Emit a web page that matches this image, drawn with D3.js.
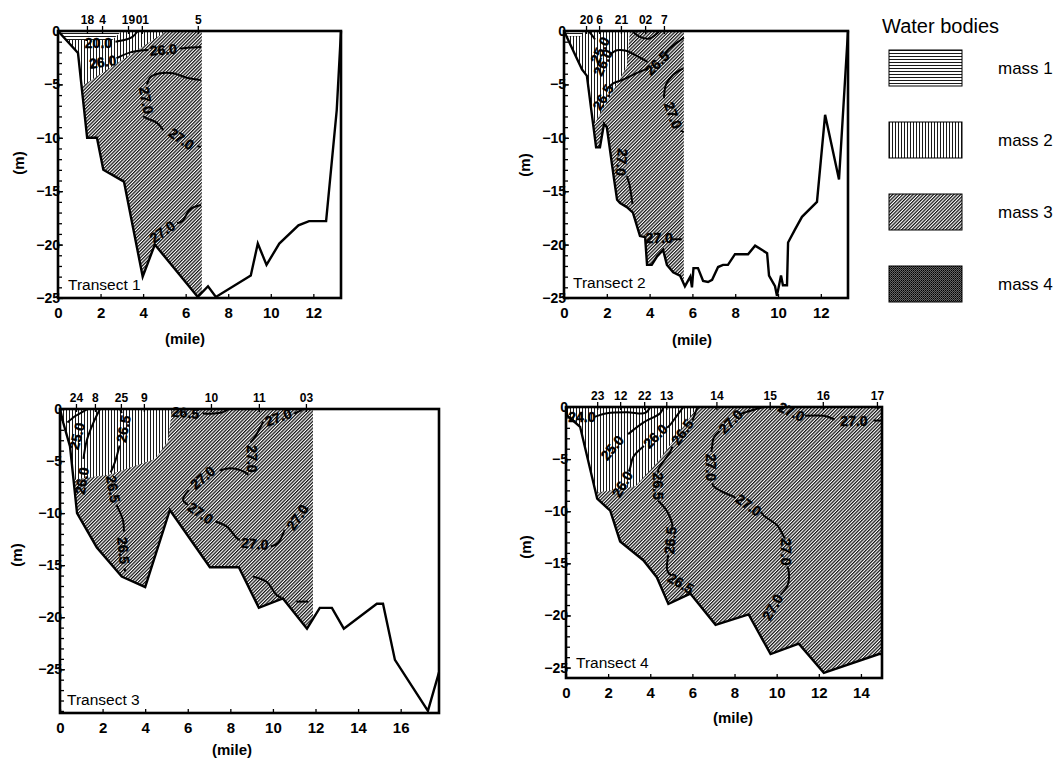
<!DOCTYPE html>
<html>
<head>
<meta charset="utf-8">
<script src="https://cdn.jsdelivr.net/npm/d3@7"></script>
<style>
  body { margin: 0; background: #fff; }
  svg { display: block; }
  text { font-family: "Liberation Sans", Arial, sans-serif; fill: #000; }
  .tick line { stroke: #000; stroke-width: 1.3; }
  .domain { display: none; }
  .c-lbl { font-weight: bold; font-size: 14px; }
  .unit { font-weight: bold; font-size: 15px; }
  .tr-name { font-size: 15.5px; }
</style>
</head>
<body>
<svg id="chart" width="1061" height="761"></svg>
<script>

// ---- transect 1 ----
const profile1 = [[0,0],[0.94,-2.06],[1.37,-10],[1.83,-10],[2.13,-13],[3.1,-14.1],[3.98,-23],[4.55,-20],[6.57,-24.9],[7.05,-23.9],[7.42,-24.9],[9.06,-22.9],[9.39,-19.9],[9.8,-21.9],[10.4,-19.9],[11.3,-18.2],[11.8,-17.8],[12.6,-17.8],[13.1,-7.4],[13.3,0]]
const stations1 = [1.36, 2.07, 3.29, 3.94, 6.57]
const stationNames1 = ['18', '4', '19', '01', '5']
const hatchEnd1 = 6.76
const mass1Edge1 = [[3.0,0],[2.55,-0.85],[0.39,-0.85]]
const mass2Edge1 = [[5.1,0],[1.17,-5.1],[1.1,-5.1]]
const contours1 = [
  [[2.7,-1.0],[3.2,-0.8],[3.5,-0.55],[3.75,0]],
  [[2.75,-2.55],[3.4,-2.0],[4.0,-1.8],[4.25,-1.78]],
  [[5.7,-1.65],[6.2,-1.55],[6.72,-1.5]],
  [[6.72,-4.6],[6.1,-4.4],[5.4,-3.95],[4.8,-3.95],[4.35,-4.3],[4.18,-5.0]],
  [[4.0,-8.0],[4.2,-8.2],[4.65,-8.6],[4.95,-9.3]],
  [[6.55,-10.8],[6.72,-10.85]],
  [[6.72,-16.3],[6.2,-16.7],[5.85,-17.8],[5.6,-18.0]]
]
const labels1 = [[1.9,-1.15,0,'20.0'],[2.1,-2.9,-8,'26.0'],[4.95,-1.75,-5,'26.0'],[4.15,-6.5,80,'27.0'],[5.8,-10.1,35,'27.0'],[4.9,-18.8,-35,'27.0']]

// ---- transect 2 ----
const profile2 = [[0,0],[0.84,-3.6],[1.07,-4.2],[1.5,-10.9],[1.68,-10.9],[1.87,-8.7],[2.0,-9.0],[2.34,-13.9],[2.48,-15.8],[2.62,-16.1],[2.94,-16.5],[3.22,-17],[3.55,-19.2],[3.79,-19.3],[3.88,-21.9],[4.1,-21.9],[4.35,-21.1],[4.63,-20.5],[4.81,-21.9],[5.1,-22.6],[5.42,-22.9],[5.65,-23.9],[5.9,-23.0],[5.98,-24.0],[6.05,-22.2],[6.26,-22.2],[6.5,-23.4],[6.73,-23.5],[6.92,-23.3],[7.2,-22.1],[7.43,-21.9],[7.66,-21.9],[7.99,-20.9],[8.6,-20.9],[8.93,-20.1],[9.49,-20.8],[9.58,-22.9],[9.86,-23.9],[9.95,-24.8],[10.14,-22.9],[10.23,-23.8],[10.42,-23.8],[10.47,-19.8],[10.79,-18.6],[11.12,-17.4],[11.82,-16],[12.2,-7.85],[12.85,-13.9],[13.27,0]]
const stations2 = [1.03, 1.64, 2.66, 3.79, 4.67]
const stationNames2 = ['20', '6', '21', '02', '7']
const hatchEnd2 = 5.6
const mass1Edge2 = [[0.9,0],[0.8,-0.5],[0.12,-0.5]]
const mass2Edge2 = [[3.08,0],[2.94,-3.3],[1.45,-8.6],[1.36,-8.6]]
const contours2 = [
  [[1.15,0],[1.35,-0.5],[1.45,-0.8]],
  [[2.15,-2.2],[2.48,-1.8],[2.9,-1.85],[3.55,-2.5],[3.9,-2.9]],
  [[4.7,-2.2],[4.85,-1.8],[5.2,-1.2],[5.45,-0.85],[5.6,-0.6]],
  [[2.1,-5.25],[2.3,-4.9],[2.7,-4.6],[3.55,-3.8],[3.95,-3.5]],
  [[3.2,0],[3.5,-0.5],[4.0,-0.7],[4.3,-0.3],[4.45,0]],
  [[5.58,-3.5],[5.1,-4.1],[4.77,-5.0],[4.67,-6.3]],
  [[5.45,-9.35],[5.6,-9.45]],
  [[2.94,-13.6],[3.05,-14.3],[3.2,-16.2]],
  [[5.05,-19.5],[5.5,-19.5]]
]
const labels2 = [[1.68,-1.8,-65,'25.0'],[1.82,-2.95,-65,'26.0'],[4.35,-3.0,-45,'26.5'],[1.82,-6.2,-60,'26.5'],[5.1,-7.9,70,'27.0'],[2.7,-12.3,95,'27.0'],[4.45,-19.4,0,'27.0']]

// ---- transect 3 ----
const profile3 = [[0,0],[0.15,-1.3],[0.47,-3.6],[0.8,-10],[1.73,-13.3],[2.9,-16.1],[4.0,-17.1],[5.16,-9.7],[7.04,-15.2],[8.4,-15.2],[9.34,-19.1],[10.47,-18.2],[11.6,-21.1],[12.2,-19.1],[12.77,-19.1],[13.33,-21.1],[14.88,-18.7],[15.17,-18.7],[15.73,-24.1],[17.28,-29.0],[17.8,-25.3]]
const stations3 = [0.75, 1.64, 2.86, 3.94, 7.09, 9.34, 11.55]
const stationNames3 = ['24', '8', '25', '9', '10', '11', '03']
const hatchEnd3 = 11.88
const mass2Edge3 = [[5.26,0],[5.07,-3.1],[4.46,-4.8],[2.35,-6.3],[0.64,-6.8]]
const contours3 = [
  [[0.35,-1.3],[0.7,-0.7],[1.0,-0.35],[1.3,0]],
  [[1.88,0],[1.56,-1.35],[1.26,-3.0],[1.1,-4.8]],
  [[2.82,0],[2.9,-0.4]],
  [[2.8,-3.5],[2.58,-5.1],[2.38,-6.1]],
  [[2.65,-9.2],[2.96,-10.7],[3.0,-11.8]],
  [[3.03,-15.3],[3.06,-15.6]],
  [[6.7,-0.4],[7.0,-0.45],[7.65,-0.3],[7.9,0]],
  [[11.0,-0.45],[11.35,-0.1]],
  [[9.55,-1.2],[9.15,-2.7],[8.95,-3.2]],
  [[8.85,-6.3],[8.5,-5.9],[8.0,-5.7],[7.5,-5.9]],
  [[6.05,-7.8],[5.78,-8.7],[6.0,-9.2]],
  [[7.3,-10.8],[7.84,-11.3],[8.3,-12.4],[8.45,-12.6]],
  [[9.9,-13.2],[10.23,-12.9],[10.55,-11.6]],
  [[11.55,-9.7],[11.65,-9.5]],
  [[9.06,-16.1],[9.7,-16.6],[10.19,-17.9],[10.4,-18.1]],
  [[11.1,-18.5],[11.66,-18.5]]
]
const labels3 = [[0.8,-2.6,-75,'25.0'],[1.03,-6.9,-80,'26.0'],[2.98,-1.9,-80,'26.5'],[2.5,-7.7,80,'26.5'],[2.98,-13.6,85,'26.5'],[5.9,-0.35,5,'26.5'],[10.25,-0.8,-20,'27.0'],[9.0,-4.8,90,'27.0'],[6.7,-6.6,-40,'27.0'],[6.6,-10.0,35,'27.0'],[9.15,-12.95,5,'27.0'],[11.15,-10.4,-55,'27.0']]

// ---- transect 4 ----
const profile4 = [[0,0],[0.05,-0.8],[0.67,-1.9],[1.48,-8.8],[2.1,-9.95],[2.57,-12.9],[3.67,-14.7],[4.3,-16.3],[4.86,-18.9],[5.9,-17.9],[7.1,-20.9],[8.67,-19.9],[9.71,-23.7],[11.05,-22.7],[12.24,-25.5],[14.86,-23.7],[15,-23.7]]
const stations4 = [1.48, 2.57, 3.71, 4.76, 7.14, 9.67, 12.19, 14.76]
const stationNames4 = ['23', '12', '22', '13', '14', '15', '16', '17']
const hatchEnd4 = 15
const mass2Edge4 = [[6.24,0],[4.38,-5.2],[3.29,-7.6],[1.48,-8.2],[1.41,-8.2]]
const contours4 = [
  [[1.35,-0.95],[1.95,-0.6],[2.9,-0.5],[3.76,-0.57],[4.0,0]],
  [[4.62,0],[4.48,-0.57],[3.67,-1.5],[2.95,-2.6]],
  [[5.57,0],[5.29,-0.76],[4.95,-1.7],[4.8,-2.0]],
  [[3.7,-3.75],[3.19,-4.8],[3.05,-5.8],[2.98,-6.2]],
  [[6.24,0],[6.0,-1.3]],
  [[5.05,-3.8],[4.95,-4.3],[4.38,-6.0],[4.38,-6.3]],
  [[4.38,-9.0],[4.81,-10.05],[5.05,-11.4],[5.0,-11.5]],
  [[4.85,-14.2],[4.81,-15.7],[5.0,-16.2]],
  [[9.38,0],[8.43,-0.57],[8.25,-0.75]],
  [[7.3,-2.3],[7.0,-3.0],[6.95,-3.6],[6.9,-4.3]],
  [[6.95,-7.3],[7.0,-7.6],[7.48,-8.2],[7.95,-8.6],[8.05,-8.75]],
  [[9.25,-10.05],[9.38,-10.4],[10.05,-11.4],[10.33,-12.4],[10.4,-12.6]],
  [[10.5,-15.3],[10.57,-15.7],[10.52,-17.1],[10.19,-18.0]],
  [[11.35,-0.85],[12.24,-0.85],[12.75,-1.2]],
  [[14.6,-1.3],[15,-1.3]]
]
const labels4 = [[0.75,-0.95,0,'24.0'],[2.19,-3.9,-50,'25.0'],[4.24,-2.8,-45,'26.0'],[2.67,-7.4,-60,'26.0'],[5.52,-2.4,-55,'26.5'],[4.38,-7.6,90,'26.5'],[4.95,-12.8,-85,'26.5'],[5.45,-16.9,30,'26.5'],[7.81,-1.4,-45,'27.0'],[6.86,-5.8,90,'27.0'],[8.67,-9.4,35,'27.0'],[10.45,-13.9,90,'27.0'],[9.8,-19.2,-60,'27.0'],[10.7,-0.45,25,'27.0'],[13.67,-1.3,0,'27.0']]

const legendNames = ['mass 1', 'mass 2', 'mass 3', 'mass 4']

const panels = [
  { name: 'Transect 1', profile: profile1, stations: stations1, stationNames: stationNames1, hatchEnd: hatchEnd1, mass1: mass1Edge1, mass2: mass2Edge1, contours: contours1, labels: labels1, xMax: 13.3, yMin: -25, box: [58, 341, 31, 298], yLabel: [18, 163], mileAt: [185, 344], nameAt: [68, 290] },
  { name: 'Transect 2', profile: profile2, stations: stations2, stationNames: stationNames2, hatchEnd: hatchEnd2, mass1: mass1Edge2, mass2: mass2Edge2, contours: contours2, labels: labels2, xMax: 13.27, yMin: -25, box: [564, 848, 31, 298], yLabel: [524, 165], mileAt: [692, 345], nameAt: [573, 288] },
  { name: 'Transect 3', profile: profile3, stations: stations3, stationNames: stationNames3, hatchEnd: hatchEnd3, mass1: null, mass2: mass2Edge3, contours: contours3, labels: labels3, xMax: 17.8, yMin: -29.2, box: [60, 439, 409, 713], yLabel: [16, 555], mileAt: [232, 755], nameAt: [67, 705] },
  { name: 'Transect 4', profile: profile4, stations: stations4, stationNames: stationNames4, hatchEnd: hatchEnd4, mass1: null, mass2: mass2Edge4, contours: contours4, labels: labels4, xMax: 15, yMin: -26, box: [566, 882, 407, 678], yLabel: [525, 547], mileAt: [733, 723], nameAt: [576, 668] }
]

const svg = d3.select('#chart')
const defs = svg.append('defs')

// hatch patterns for the water masses
const pat = (id, size, draw, rot) => {
  const p = defs.append('pattern').attr('id', id)
    .attr('patternUnits', 'userSpaceOnUse')
    .attr('width', size).attr('height', size)
  if (rot) p.attr('patternTransform', `rotate(${rot})`)
  p.append('rect').attr('width', size).attr('height', size).attr('fill', '#fff')
  draw(p)
}
pat('m1', 3, p => p.append('line').attr('x1', 0).attr('x2', 3).attr('y1', 0.5).attr('y2', 0.5).attr('stroke', '#000').attr('stroke-width', 0.9))
pat('m2', 3, p => p.append('line').attr('y1', 0).attr('y2', 3).attr('x1', 0.5).attr('x2', 0.5).attr('stroke', '#000').attr('stroke-width', 0.9))
pat('m3', 2.4, p => p.append('line').attr('y1', 0).attr('y2', 2.4).attr('x1', 0.6).attr('x2', 0.6).attr('stroke', '#111').attr('stroke-width', 1.3), 45)
pat('m4', 2, p => {
  p.select('rect').attr('fill', '#666')
  p.append('rect').attr('width', 1).attr('height', 1).attr('fill', '#000')
  p.append('rect').attr('x', 1).attr('y', 1).attr('width', 1).attr('height', 1).attr('fill', '#222')
})

const depthAt = (profile, xv) => {
  for (let i = 1; i < profile.length; i++) {
    const a = profile[i - 1], b = profile[i]
    if (xv >= a[0] && xv <= b[0]) return a[1] + (b[1] - a[1]) * (xv - a[0]) / (b[0] - a[0])
  }
  return profile[profile.length - 1][1]
}

const massPoly = (profile, edge) => {
  const last = edge[edge.length - 1]
  return [[0, 0], ...edge, ...profile.filter(d => d[0] < last[0] && d[1] > last[1]).reverse()]
}

const boldTicks = (sel, size) => sel.selectAll('text')
  .style('font-weight', 'bold')
  .style('font-size', size + 'px')
  .style('font-family', '"Liberation Sans", Arial, sans-serif')
  .attr('fill', '#000')

const drawPanel = (p) => {
  const [left, right, top, bottom] = p.box
  const x = d3.scaleLinear().domain([0, p.xMax]).range([left, right])
  const y = d3.scaleLinear().domain([p.yMin, 0]).range([bottom, top])
  const line = d3.line().x(d => x(d[0])).y(d => y(d[1]))
  const smooth = d3.line().x(d => x(d[0])).y(d => y(d[1])).curve(d3.curveCatmullRom)
  const g = svg.append('g')

  // water mass 3 = everything from the surface down to the bottom, up to the last station
  const xr = p.hatchEnd
  const m3 = [[0, 0], [xr, 0], [xr, depthAt(p.profile, xr)], ...p.profile.filter(d => d[0] < xr).reverse()]
  g.append('path').attr('d', line(m3) + 'Z').attr('fill', 'url(#m3)')

  g.append('path').attr('d', line(massPoly(p.profile, p.mass2)) + 'Z').attr('fill', 'url(#m2)')
  if (p.mass1) g.append('path').attr('d', line(massPoly(p.profile, p.mass1)) + 'Z').attr('fill', 'url(#m1)')

  // isolines
  g.selectAll('.iso')
    .data(p.contours)
    .enter()
    .append('path')
    .attr('class', 'iso')
    .attr('d', smooth)
    .attr('fill', 'none')
    .attr('stroke', '#000')
    .attr('stroke-width', 2)

  g.selectAll('.c-lbl')
    .data(p.labels)
    .enter()
    .append('text')
    .attr('class', 'c-lbl')
    .attr('text-anchor', 'middle')
    .attr('dominant-baseline', 'central')
    .attr('stroke', '#000')
    .attr('stroke-width', 0.4)
    .attr('transform', d => `translate(${x(d[0])},${y(d[1])}) rotate(${d[2]})`)
    .text(d => d[3])

  // bottom profile
  g.append('path').attr('d', line(p.profile))
    .attr('fill', 'none').attr('stroke', '#000').attr('stroke-width', 2.4).attr('stroke-linejoin', 'miter')

  // frame
  g.append('rect').attr('x', left).attr('y', top).attr('width', right - left).attr('height', bottom - top)
    .attr('fill', 'none').attr('stroke', '#000').attr('stroke-width', 2.6)

  // y axis: minor ticks every metre, labelled every 5 m
  g.append('g').attr('transform', `translate(${left},0)`)
    .call(d3.axisLeft(y).tickValues(d3.range(0, p.yMin, -1)).tickSize(-4).tickFormat(''))
  g.append('g').attr('transform', `translate(${left},0)`)
    .call(d3.axisLeft(y).tickValues(d3.range(0, p.yMin - 0.01, -5)).tickSize(-5).tickPadding(-2).tickFormat(d3.format('d')))
    .call(boldTicks, 14)

  g.append('g').attr('transform', `translate(0,${bottom})`)
    .call(d3.axisBottom(x).tickValues(d3.range(0, p.xMax + 0.01, 2)).tickSize(-4).tickPadding(9))
    .call(boldTicks, 15)

  g.append('g').attr('transform', `translate(0,${top + 3})`)
    .call(d3.axisTop(x).tickValues(p.stations).tickSize(8).tickPadding(2).tickFormat((d, i) => p.stationNames[i]))
    .call(boldTicks, 12)

  g.append('text').attr('class', 'unit').attr('text-anchor', 'middle')
    .attr('transform', `translate(${p.yLabel[0]},${p.yLabel[1]}) rotate(-90)`)
    .attr('dominant-baseline', 'central').text('(m)')
  g.append('text').attr('class', 'unit').attr('text-anchor', 'middle')
    .attr('x', p.mileAt[0]).attr('y', p.mileAt[1]).text('(mile)')
  g.append('text').attr('class', 'tr-name').attr('x', p.nameAt[0]).attr('y', p.nameAt[1]).text(p.name)
}

panels.forEach(drawPanel)

// legend
const legend = svg.append('g')
legend.append('text').attr('x', 882).attr('y', 33).attr('font-size', 20).text('Water bodies')
const items = legend.selectAll('.item')
  .data(legendNames)
  .enter()
  .append('g')
  .attr('transform', (d, i) => `translate(889,${50 + i * 72})`)
items.append('rect').attr('width', 73).attr('height', 36)
  .attr('fill', (d, i) => `url(#m${i + 1})`).attr('stroke', '#000').attr('stroke-width', 1)
items.append('text').attr('x', 109).attr('y', 24).attr('font-size', 17).text(d => d)

</script>
</body>
</html>
